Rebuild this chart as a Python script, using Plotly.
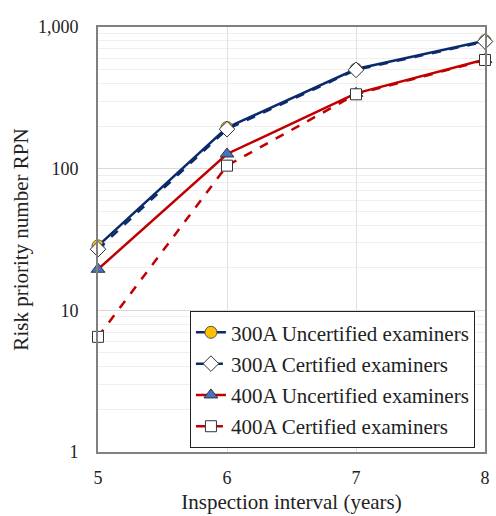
import plotly.graph_objects as go

years = [5, 6, 7, 8]
rpn_300a_uncert = [28.5, 195, 505, 800]
rpn_300a_cert = [27, 190, 498, 790]
rpn_400a_uncert = [19.5, 127, 340, 590]
rpn_400a_cert = [6.5, 105, 335, 585]

navy = "#0b2a6b"
red = "#c00000"
font = "Liberation Serif, Times New Roman, serif"

series = [
    ("300A Uncertified examiners", rpn_300a_uncert, navy, "solid",
     dict(symbol="circle", size=12, color="#ffc000", line=dict(color="#555", width=1))),
    ("300A Certified examiners", rpn_300a_cert, navy, "dash",
     dict(symbol="diamond", size=12, color="white", line=dict(color="#333", width=1))),
    ("400A Uncertified examiners", rpn_400a_uncert, red, "solid",
     dict(symbol="triangle-up", size=12, color="#4472c4", line=dict(color="#333", width=1))),
    ("400A Certified examiners", rpn_400a_cert, red, "dash",
     dict(symbol="square", size=11, color="white", line=dict(color="#333", width=1))),
]

fig = go.Figure()
for i, (name, vals, color, dash, marker) in enumerate(series):
    fig.add_trace(go.Scatter(
        x=years, y=vals, name=name, legendgroup=f"g{i}",
        mode="lines+markers", line=dict(color=color, width=2.5, dash=dash),
        marker=marker, cliponaxis=False))

fig.update_layout(
    width=496, height=516,
    margin=dict(l=98, r=6, t=27, b=60),
    paper_bgcolor="white", plot_bgcolor="white",
    font=dict(family=font, size=18, color="#222"),
    showlegend=True,
    legend=dict(
        x=0.974, y=0.009, xanchor="right", yanchor="bottom",
        bgcolor="white", bordercolor="#222", borderwidth=1,
        font=dict(family=font, size=21), tracegroupgap=1,
    ),
    xaxis=dict(
        range=[5, 8], tickvals=years, ticks="",
        showgrid=True, gridcolor="#e0e0e0", gridwidth=1,
        showline=True, linecolor="#808080", linewidth=2, mirror=True,
        zeroline=False, ticklabelstandoff=8,
        title=dict(text="Inspection interval (years)", font=dict(size=21), standoff=8),
        tickfont=dict(size=18),
    ),
    yaxis=dict(
        type="log", range=[0, 3],
        tickvals=[1, 10, 100, 1000], ticktext=["1", "10", "100", "1,000"],
        ticks="", showgrid=True, gridcolor="#d9d9d9", gridwidth=1,
        minor=dict(showgrid=True, gridcolor="#efefef", gridwidth=1,
                   tickvals=[m * d for d in (1, 10, 100) for m in range(2, 10)]),
        showline=True, linecolor="#808080", linewidth=2, mirror=True,
        zeroline=False, ticklabelstandoff=14,
        title=dict(text="Risk priority number RPN", font=dict(size=21), standoff=4),
        tickfont=dict(size=18),
    ),
)

fig.write_html("out.html")
